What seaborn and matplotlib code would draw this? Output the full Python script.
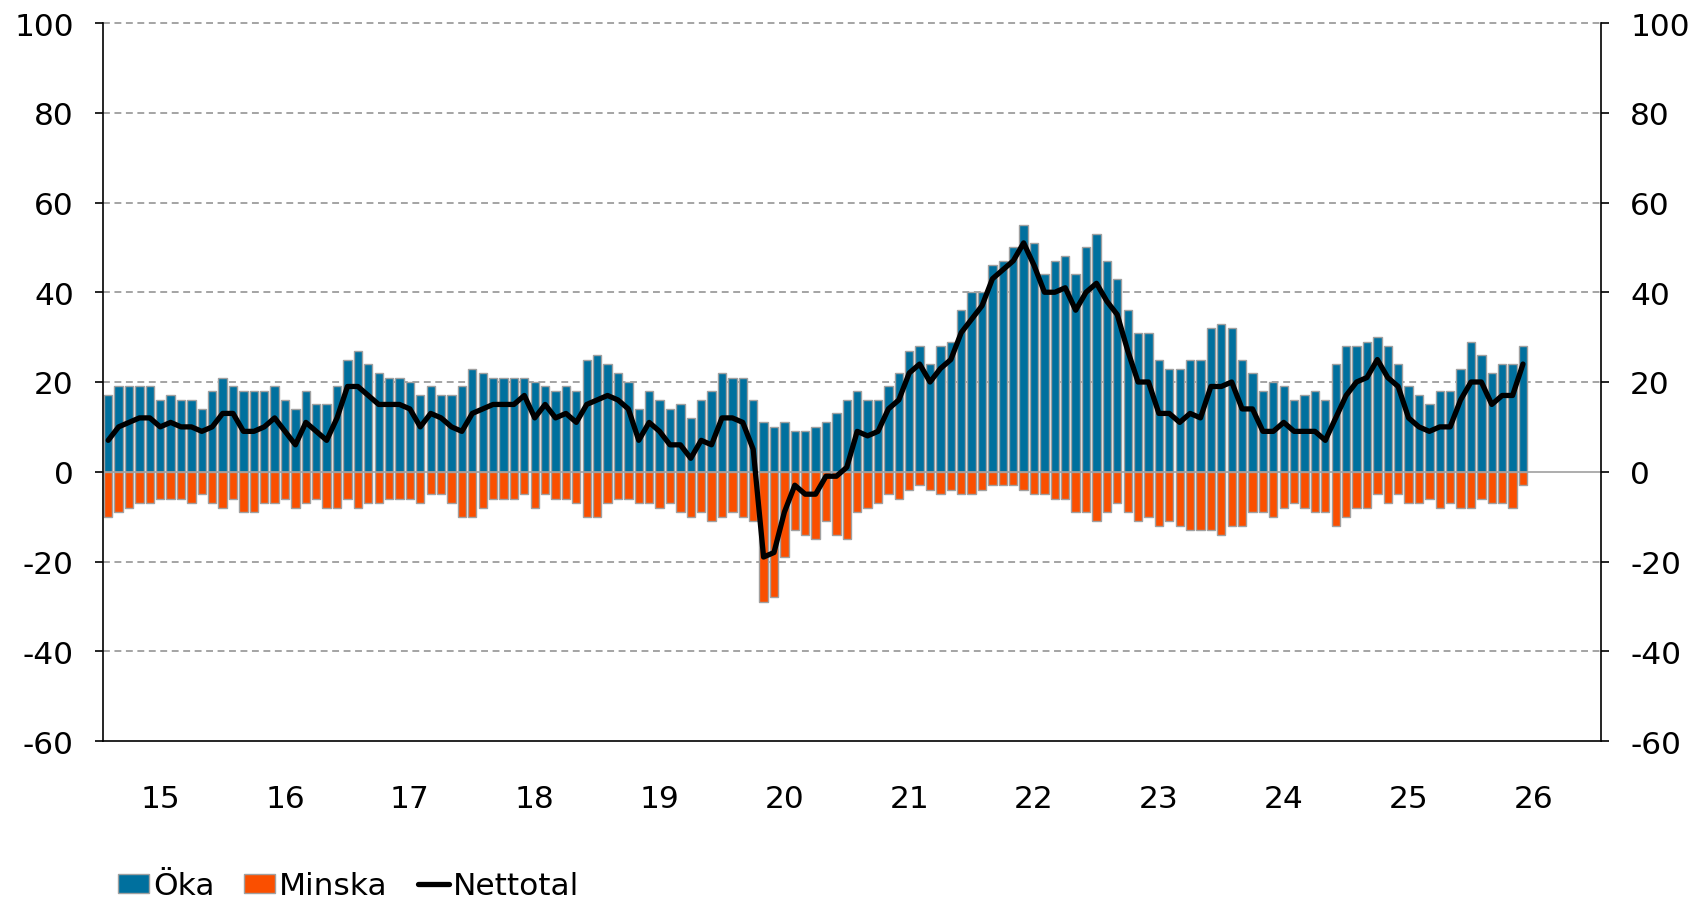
import numpy as np
import pandas as pd
import matplotlib
matplotlib.use("Agg")
import matplotlib.pyplot as plt
from matplotlib.patches import Patch
from matplotlib.lines import Line2D
import seaborn as sns

# ---- data (monthly, Jan 2015 .. May 2026) ----
oka = [17, 19, 19, 19, 19, 16, 17, 16, 16, 14, 18, 21,
       19, 18, 18, 18, 19, 16, 14, 18, 15, 15, 19, 25,
       27, 24, 22, 21, 21, 20, 17, 19, 17, 17, 19, 23,
       22, 21, 21, 21, 21, 20, 19, 18, 19, 18, 25, 26,
       24, 22, 20, 14, 18, 16, 14, 15, 12, 16, 18, 22,
       21, 21, 16, 11, 10, 11, 9, 9, 10, 11, 13, 16,
       18, 16, 16, 19, 22, 27, 28, 24, 28, 29, 36, 40,
       40, 46, 47, 50, 55, 51, 44, 47, 48, 44, 50, 53,
       47, 43, 36, 31, 31, 25, 23, 23, 25, 25, 32, 33,
       32, 25, 22, 18, 20, 19, 16, 17, 18, 16, 24, 28,
       28, 29, 30, 28, 24, 19, 17, 15, 18, 18, 23, 29,
       26, 22, 24, 24, 28]
minska = [-10, -9, -8, -7, -7, -6, -6, -6, -7, -5, -7, -8,
          -6, -9, -9, -7, -7, -6, -8, -7, -6, -8, -8, -6,
          -8, -7, -7, -6, -6, -6, -7, -5, -5, -7, -10, -10,
          -8, -6, -6, -6, -5, -8, -5, -6, -6, -7, -10, -10,
          -7, -6, -6, -7, -7, -8, -7, -9, -10, -9, -11, -10,
          -9, -10, -11, -29, -28, -19, -13, -14, -15, -11, -14, -15,
          -9, -8, -7, -5, -6, -4, -3, -4, -5, -4, -5, -5,
          -4, -3, -3, -3, -4, -5, -5, -6, -6, -9, -9, -11,
          -9, -7, -9, -11, -10, -12, -11, -12, -13, -13, -13, -14,
          -12, -12, -9, -9, -10, -8, -7, -8, -9, -9, -12, -10,
          -8, -8, -5, -7, -5, -7, -7, -6, -8, -7, -8, -8,
          -6, -7, -7, -8, -3]
nettotal = [7, 10, 11, 12, 12, 10, 11, 10, 10, 9, 10, 13,
            13, 9, 9, 10, 12, 9, 6, 11, 9, 7, 12, 19,
            19, 17, 15, 15, 15, 14, 10, 13, 12, 10, 9, 13,
            14, 15, 15, 15, 17, 12, 15, 12, 13, 11, 15, 16,
            17, 16, 14, 7, 11, 9, 6, 6, 3, 7, 6, 12,
            12, 11, 5, -19, -18, -9, -3, -5, -5, -1, -1, 1,
            9, 8, 9, 14, 16, 22, 24, 20, 23, 25, 31, 34,
            37, 43, 45, 47, 51, 46, 40, 40, 41, 36, 40, 42,
            38, 35, 27, 20, 20, 13, 13, 11, 13, 12, 19, 19,
            20, 14, 14, 9, 9, 11, 9, 9, 9, 7, 12, 17,
            20, 21, 25, 21, 19, 12, 10, 9, 10, 10, 16, 20,
            20, 15, 17, 17, 24]
year_labels = ["15", "16", "17", "18", "19", "20", "21", "22", "23", "24", "25", "26"]
series_labels = ["Öka", "Minska", "Nettotal"]

month_idx = np.arange(len(oka))
df = pd.DataFrame({"m": month_idx, "oka": oka, "minska": minska, "net": nettotal})

BLUE = "#00709E"
ORANGE = "#FA4F00"
EDGE = "#A0A0A0"

sns.set_style("white")
plt.rcParams["font.family"] = ["DejaVu Sans"]
plt.rcParams["text.color"] = "black"
plt.rcParams["xtick.color"] = "black"
plt.rcParams["ytick.color"] = "black"
FS = 22.5

fig = plt.figure(figsize=(16.96, 9.04), dpi=100)
ax = fig.add_axes([103 / 1696, 1 - 742 / 904, (1601 - 103) / 1696, (742 - 24) / 904])

# grid
for v in [-40, -20, 20, 40, 60, 80, 100]:
    ax.axhline(v, color="#8C8C8C", lw=1.1, ls=(0, (4.5, 3)), zorder=0.5, clip_on=False)

sns.barplot(data=df, x="m", y="oka", native_scale=True, color=BLUE, width=0.8,
            edgecolor=EDGE, linewidth=1.0, saturation=1, ax=ax, zorder=2)
sns.barplot(data=df, x="m", y="minska", native_scale=True, color=ORANGE, width=0.8,
            edgecolor=EDGE, linewidth=1.0, saturation=1, ax=ax, zorder=2)
ax.axhline(0, color=EDGE, lw=1.2, zorder=2.5)
sns.lineplot(data=df, x="m", y="net", color="black", lw=3.8, ax=ax, zorder=3)

ax.set_xlim(-0.5, 143.5)
ax.set_ylim(-60, 100)
ax.set_xlabel("")
ax.set_ylabel("")

for s in ["left", "right", "bottom"]:
    ax.spines[s].set_visible(True)
    ax.spines[s].set_color("black")
    ax.spines[s].set_linewidth(1.2)
ax.spines["top"].set_visible(False)

ax.set_yticks(np.arange(-60, 101, 20))
ax.set_yticklabels([str(v) for v in range(-60, 101, 20)])
ax.tick_params(axis="y", left=True, right=True, labelleft=True, labelright=True,
               direction="out", length=6, width=1.2, color="black", pad=15,
               labelsize=FS, labelcolor="black")

major = [-0.5 + 12 * k for k in range(13)]
ax.set_xticks(major)
ax.set_xticklabels([""] * len(major))
ax.set_xticks([5.0 + 12 * k for k in range(12)], minor=True)
ax.set_xticklabels(year_labels, minor=True)
ax.tick_params(axis="x", which="major", direction="inout", length=15, width=1.2,
               color="black")
ax.tick_params(axis="x", which="minor", length=0, pad=31, labelsize=FS,
               labelcolor="black")

handles = [Patch(facecolor=BLUE, edgecolor=EDGE, lw=1.0),
           Patch(facecolor=ORANGE, edgecolor=EDGE, lw=1.0),
           Line2D([0], [0], color="black", lw=3.8)]
fig.legend(handles, series_labels, loc="center left",
           bbox_to_anchor=(118 / 1696, 1 - 887 / 904), ncol=3, frameon=False,
           fontsize=FS, handlelength=1.0, handleheight=0.6, handletextpad=0.12,
           columnspacing=0.95, borderpad=0, borderaxespad=0, labelcolor="black")

fig.savefig("out.png", dpi=100)
